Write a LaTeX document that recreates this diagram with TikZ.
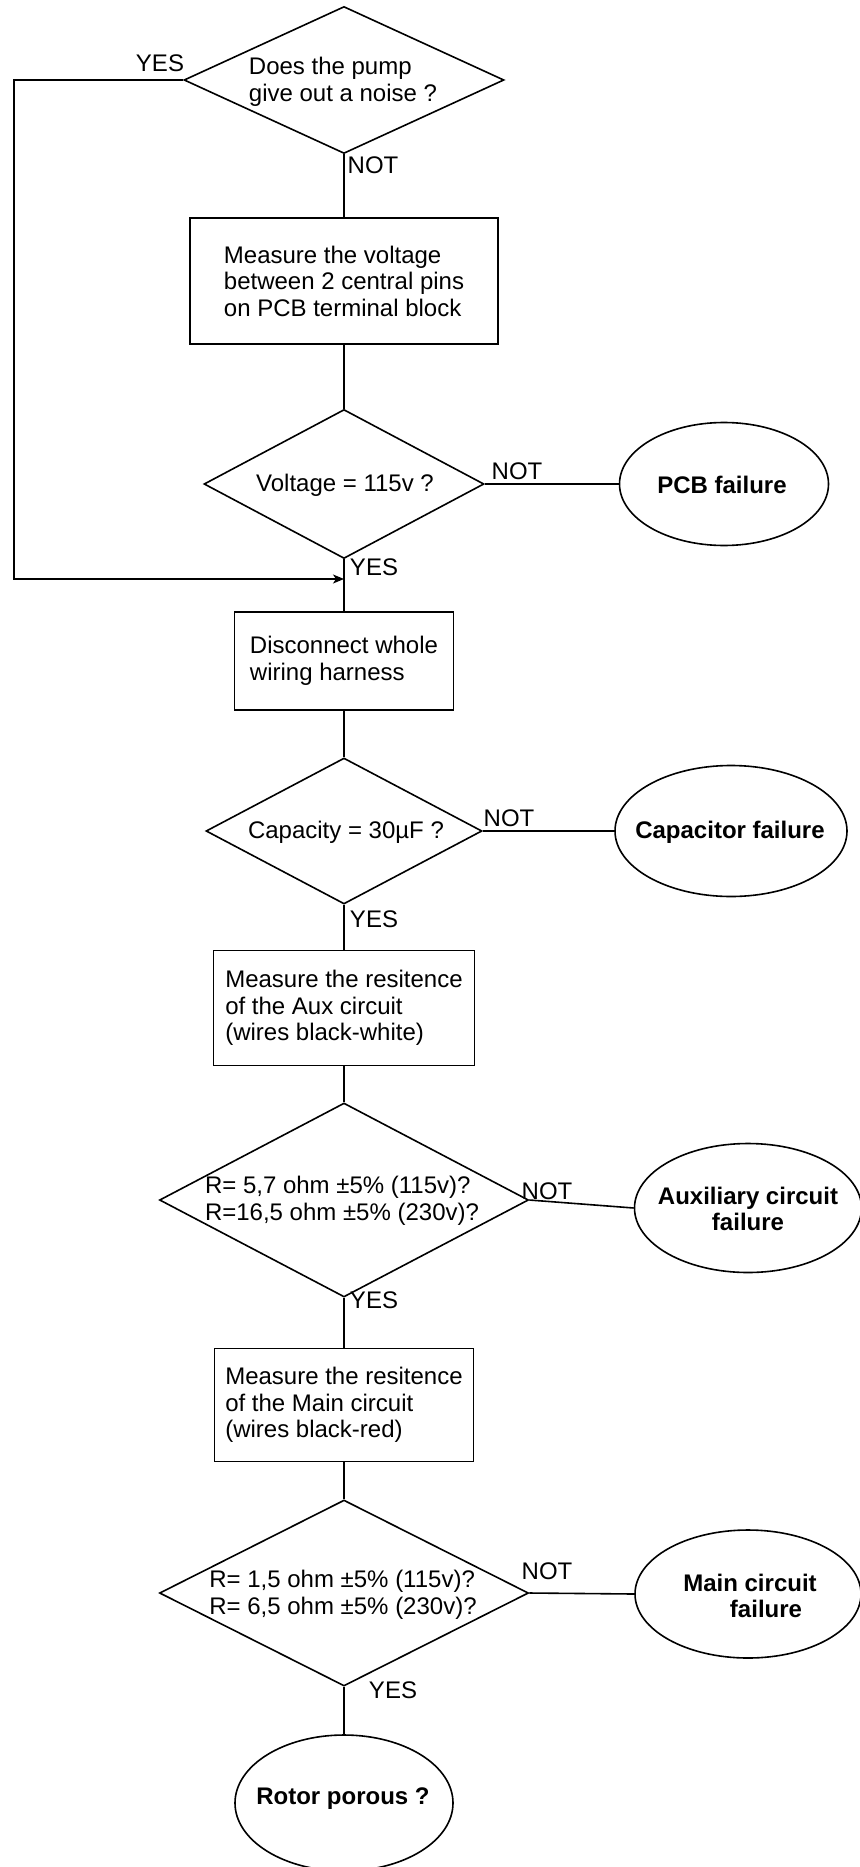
\documentclass[tikz,border=0pt]{standalone}
\usepackage{fontspec}
\setmainfont{Liberation Sans}
\usetikzlibrary{shapes.geometric,arrows.meta}
\begin{document}
\begin{tikzpicture}[x=1pt,y=-1pt,
  every node/.style={font=\fontsize{24}{26.5}\selectfont},
  lw/.style={line width=1.6pt},
  dia/.style={diamond,draw,lw,inner sep=0pt,aspect=1},
  stepbox/.style={rectangle,draw,lw,inner sep=0pt,align=left},
  oval/.style={ellipse,draw,lw,inner sep=0pt},
  ovaltext/.style={font=\fontsize{24}{25.5}\selectfont\bfseries,align=center,inner sep=0pt},
  dtext/.style={align=left,inner sep=0pt},
  lbl/.style={inner sep=0pt},
  conn/.style={lw}
]
\useasboundingbox (0,0) rectangle (859,1867);

% decision 1
\node[dia,minimum width=320pt,minimum height=147pt] (d1) at (344,80) {};
\node[dtext] (d1t) at (343,82) {Does the pump\\give out a noise ?};

% box 1
\node[stepbox,minimum width=308pt,minimum height=126pt] (b1) at (344,281)
  {Measure the voltage\\between 2 central pins\\on PCB terminal block};

% decision 2
\node[dia,minimum width=280pt,minimum height=149pt] (d2) at (344,484) {};
\node[dtext] (d2t) at (345,485) {Voltage = 115v ?};
\node[oval,minimum width=209pt,minimum height=123pt] (pcb) at (724,484) {};
\node[ovaltext] (pcbt) at (722,485) {PCB failure};

% box 2
\node[stepbox,minimum width=219pt,minimum height=98pt] (b2) at (344,661)
  {Disconnect whole\\wiring harness};

% decision 3
\node[dia,minimum width=276pt,minimum height=146pt] (d3) at (344,831) {};
\node[dtext] (d3t) at (346,832) {Capacity = 30µF ?};
\node[oval,minimum width=232pt,minimum height=131pt] (cap) at (731,831) {};
\node[ovaltext] (capt) at (730,832) {Capacitor failure};

% box 3
\node[stepbox,minimum width=261pt,minimum height=115pt] (b3) at (344,1008)
  {Measure the resitence\\of the Aux circuit\\(wires black-white)};

% decision 4
\node[dia,minimum width=369pt,minimum height=194pt] (d4) at (344,1200) {};
\node[dtext] (d4t) at (342,1201) {R= 5,7 ohm ±5\% (115v)?\\R=16,5 ohm ±5\% (230v)?};
\node[oval,minimum width=227pt,minimum height=129pt] (aux) at (748,1208) {};
\node[ovaltext] (auxt) at (748,1209) {Auxiliary circuit\\failure};

% box 4
\node[stepbox,minimum width=259pt,minimum height=113pt] (b4) at (344,1405)
  {Measure the resitence\\of the Main circuit\\(wires black-red)};

% decision 5
\node[dia,minimum width=369pt,minimum height=186pt] (d5) at (344,1593) {};
\node[dtext] (d5t) at (343,1595) {R= 1,5 ohm ±5\% (115v)?\\R= 6,5 ohm ±5\% (230v)?};
\node[oval,minimum width=226pt,minimum height=128pt] (main) at (748,1594) {};
\node[ovaltext] (maint) at (750,1596) {Main circuit\\\hspace*{32pt}failure};

% final
\node[oval,minimum width=218pt,minimum height=136pt] (rotor) at (344,1803) {};
\node[ovaltext] (rotort) at (343,1799) {Rotor porous ?};

% labels
\node[lbl] (y1) at (160,63) {YES};
\node[lbl] (n1) at (373,165) {NOT};
\node[lbl] (n2) at (517,471) {NOT};
\node[lbl] (y2) at (374,567) {YES};
\node[lbl] (n3) at (509,818) {NOT};
\node[lbl] (y3) at (374,919) {YES};
\node[lbl] (n4) at (547,1191) {NOT};
\node[lbl] (y4) at (374,1300) {YES};
\node[lbl] (n5) at (547,1571) {NOT};
\node[lbl] (y5) at (393,1690) {YES};

% connectors
\coordinate (loopL) at (14,579);
\coordinate (join) at (344,579);
\draw[conn] (d1.south) -- (b1.north);
\draw[conn] (b1.south) -- (d2.north);
\draw[conn] (d2.east) -- (pcb.west);
\draw[conn] (d2.south) -- (b2.north);
\draw[conn,-{Stealth[length=11pt,width=9pt,inset=3pt]}] (d1.west) -- (d1.west -| loopL) -- (loopL) -- (join);
\draw[conn] (b2.south) -- (d3.north);
\draw[conn] (d3.east) -- (cap.west);
\draw[conn] (d3.south) -- (b3.north);
\draw[conn] (b3.south) -- (d4.north);
\draw[conn] (d4.east) -- (aux.west);
\draw[conn] (d4.south) -- (b4.north);
\draw[conn] (b4.south) -- (d5.north);
\draw[conn] (d5.east) -- (main.west);
\draw[conn] (d5.south) -- (rotor.north);
\end{tikzpicture}
\end{document}
